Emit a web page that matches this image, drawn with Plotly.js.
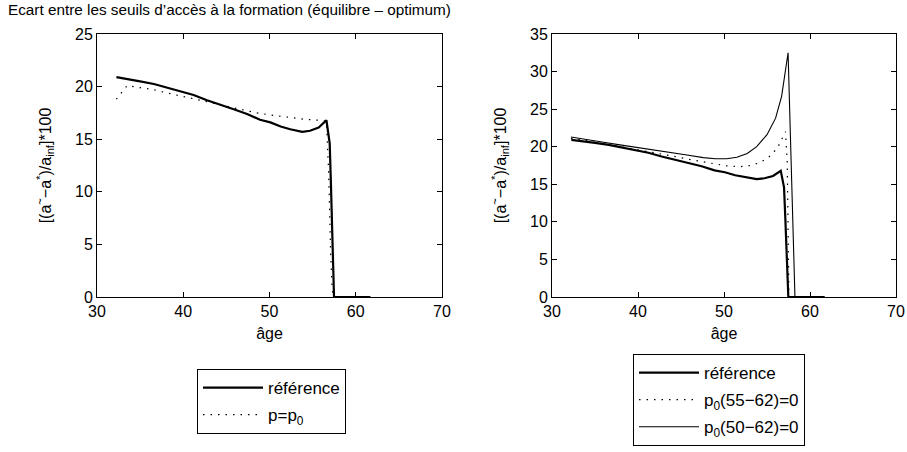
<!DOCTYPE html>
<html>
<head>
<meta charset="utf-8">
<script src="https://cdn.plot.ly/plotly-3.0.1.min.js"></script>
<style>html,body{margin:0;padding:0;background:#fff;} #chart{width:907px;height:452px;}</style>
</head>
<body>
<div id="chart"></div>
<script>
// ---- data ----
const refAge = [32.25, 33.9, 35.0, 36.6, 38.1, 39.9, 41.2, 42.75, 44.3, 45.85, 47.4, 48.9, 50.1, 51.3, 52.4, 53.8, 54.7, 55.7, 56.6, 56.98, 57.13, 57.25, 57.36, 57.48, 61.7];
const refVal = [20.9, 20.7, 20.5, 20.25, 19.9, 19.5, 19.2, 18.7, 18.3, 17.85, 17.4, 16.85, 16.6, 16.2, 15.95, 15.7, 15.8, 16.1, 16.8, 14.6, 10.5, 5.8, 2.0, 0, 0];

const pAge = [32.24, 33.5, 35.0, 36.6, 38.1, 39.9, 41.6, 43.1, 44.7, 46.6, 48.2, 50.1, 52.0, 54.0, 55.7, 56.6, 56.85, 56.95, 57.1, 57.25, 57.38, 61.7];
const pVal = [18.8, 20.1, 19.9, 19.7, 19.4, 19.1, 18.8, 18.5, 18.2, 17.85, 17.55, 17.3, 17.1, 16.9, 16.8, 16.7, 12.0, 8.0, 4.0, 1.0, 0, 0];

const p55Age = [32.2, 34.1, 36.0, 38.0, 40.0, 41.9, 43.8, 46.5, 48.8, 50.3, 51.9, 53.1, 54.2, 55.2, 56.2, 56.9, 57.15, 57.35, 57.45, 57.55, 61.7];
const p55Val = [21.1, 20.8, 20.4, 20.0, 19.6, 19.2, 18.8, 18.2, 17.7, 17.45, 17.35, 17.5, 17.9, 18.6, 19.8, 21.6, 22.0, 18.0, 10.0, 0, 0];

const p50Age = [32.2, 34.1, 36.0, 37.9, 40.0, 41.8, 43.8, 45.7, 47.6, 49.0, 50.3, 51.5, 52.7, 53.8, 55.0, 56.0, 56.7, 57.45, 58.25, 61.7];
const p50Val = [21.3, 20.9, 20.6, 20.25, 19.9, 19.6, 19.3, 18.9, 18.55, 18.4, 18.4, 18.6, 19.1, 20.0, 21.6, 23.8, 26.7, 32.5, 0, 0];

const chartTitle = "Ecart entre les seuils d’accès à la formation (équilibre – optimum)";
const yTitle = "[(a<sup>~</sup>−a<sup>*</sup>)/a<sub>inf</sub>]*100";
const xTitle = "âge";
const names = ["référence", "p=p<sub>0</sub>", "p<sub>0</sub>(55−62)=0", "p<sub>0</sub>(50−62)=0"];

const FONT = "'Liberation Sans', Arial, Helvetica, sans-serif";
const dotted = "1.5px,6px";

const traces = [
  {x: refAge, y: refVal, xaxis: 'x', yaxis: 'y', mode: 'lines', name: names[0],
   line: {color: '#000', width: 2.2}, legend: 'legend', legendgroup: 'a'},
  {x: pAge, y: pVal, xaxis: 'x', yaxis: 'y', mode: 'lines', name: names[1],
   line: {color: '#000', width: 1.2, dash: dotted}, legend: 'legend', legendgroup: 'b'},
  {x: refAge, y: refVal, xaxis: 'x2', yaxis: 'y2', mode: 'lines', name: names[0],
   line: {color: '#000', width: 2.2}, legend: 'legend2', legendgroup: 'c'},
  {x: p55Age, y: p55Val, xaxis: 'x2', yaxis: 'y2', mode: 'lines', name: names[2],
   line: {color: '#000', width: 1.2, dash: dotted}, legend: 'legend2', legendgroup: 'd'},
  {x: p50Age, y: p50Val, xaxis: 'x2', yaxis: 'y2', mode: 'lines', name: names[3],
   line: {color: '#000', width: 1.1}, legend: 'legend2', legendgroup: 'e'}
];

function xax(domain, anchor) {
  return {domain: domain, anchor: anchor, range: [30, 70], dtick: 10, tick0: 30,
    ticks: 'inside', ticklen: 5, tickcolor: '#000', showline: true, linecolor: '#000', linewidth: 1,
    mirror: 'ticks', showgrid: false, zeroline: false, tickfont: {size: 16, color: '#000'},
    title: {text: xTitle, font: {size: 16, color: '#000'}, standoff: 8}};
}
function yax(domain, anchor, max) {
  return {domain: domain, anchor: anchor, range: [0, max], dtick: 5, tick0: 0,
    ticks: 'inside', ticklen: 5, tickcolor: '#000', showline: true, linecolor: '#000', linewidth: 1,
    mirror: 'ticks', showgrid: false, zeroline: false, tickfont: {size: 16, color: '#000'},
    title: {text: yTitle, font: {size: 16, color: '#000'}, standoff: 19}};
}

const legBase = {bordercolor: '#000', borderwidth: 1, bgcolor: '#fff', font: {size: 17, color: '#000'},
  xanchor: 'left', yanchor: 'top', itemwidth: 60, traceorder: 'grouped'};

const layout = {
  width: 907, height: 452,
  margin: {l: 0, r: 0, t: 0, b: 0},
  paper_bgcolor: '#fff', plot_bgcolor: '#fff',
  font: {family: FONT, color: '#000', size: 16},
  title: {text: chartTitle, x: 8/907, xanchor: 'left', y: 1 - 10/452, yanchor: 'middle',
    font: {size: 15.3, color: '#000'}},
  xaxis: xax([97/907, 442/907], 'y'),
  yaxis: yax([1 - 297/452, 1 - 34/452], 'x', 25),
  xaxis2: xax([552/907, 896/907], 'y2'),
  yaxis2: yax([1 - 297/452, 1 - 34/452], 'x2', 35),
  legend: Object.assign({}, legBase, {x: 197/907, y: 1 - 369/452, tracegroupgap: 2}),
  legend2: Object.assign({}, legBase, {x: 633/907, y: 1 - 354/452, tracegroupgap: 2}),
  showlegend: true
};

Plotly.newPlot('chart', traces, layout, {staticPlot: true, displayModeBar: false});
</script>
</body>
</html>
